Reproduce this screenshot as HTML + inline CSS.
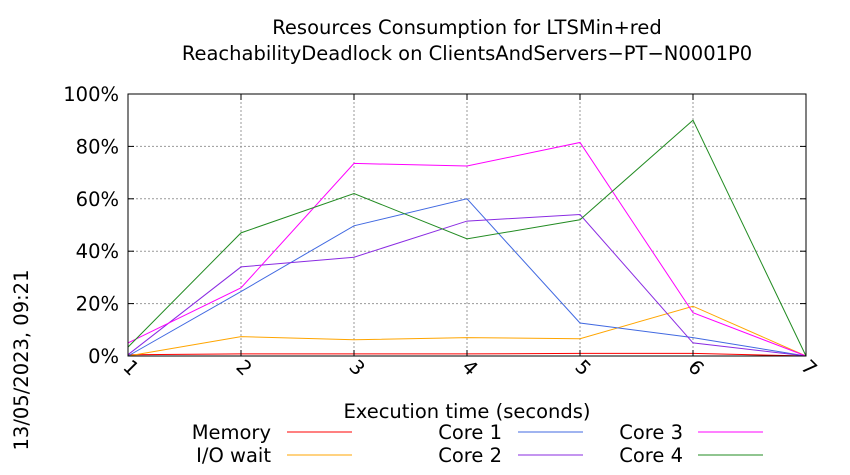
<!DOCTYPE html>
<html><head><meta charset="utf-8"><style>body{margin:0;background:#fff}svg{display:block;font-family:"DejaVu Sans","Liberation Sans",sans-serif}</style></head>
<body>
<svg width="850" height="475" viewBox="0 0 850 475">
<g id="grid"></g>
<g id="series"></g>
<rect x="128" y="94" width="678" height="262" fill="none" stroke="#000" stroke-width="1"/>
<g id="ticks"></g>
<text x="467" y="34" font-size="19.5" text-anchor="middle">Resources Consumption for LTSMin+red</text>
<text x="467" y="60" font-size="19.5" text-anchor="middle">ReachabilityDeadlock on ClientsAndServers−PT−N0001P0</text>
<text x="467" y="418" font-size="19.5" text-anchor="middle">Execution time (seconds)</text>
<text transform="translate(28,360) rotate(-90)" font-size="19.5" text-anchor="middle">13/05/2023, 09:21</text>
<g id="legend"></g>
</svg>
<script>
const xCategories=[1,2,3,4,5,6,7];
const yTicks=[0,20,40,60,80,100];
const memory=[0.5,0.8,0.8,0.8,1,1,0];
const ioWait=[0,7.4,6.2,7,6.6,19,0];
const core1=[0,24.6,49.7,60,12.6,7,0];
const core2=[0.5,34,37.7,51.5,54,5,0];
const core3=[5,26,73.5,72.5,81.5,16.5,0];
const core4=[3.4,47,62,44.7,52,90,0];
const seriesNames=["Memory","I/O wait","Core 1","Core 2","Core 3","Core 4"];
const seriesData=[memory,ioWait,core1,core2,core3,core4];
const seriesColors=["#ff0000","#ffa500","#4169e1","#8a2be2","#ff00ff","#228b22"];
const NS="http://www.w3.org/2000/svg";
const L=128,R=806,T=94,B=356;
const xs=v=>L+(v-1)*(R-L)/6;
const ys=v=>B-v*(B-T)/100;
function mk(tag,attrs,parent){const e=document.createElementNS(NS,tag);for(const k in attrs)e.setAttribute(k,attrs[k]);parent.appendChild(e);return e;}
const grid=document.getElementById('grid'),ticks=document.getElementById('ticks'),ser=document.getElementById('series'),leg=document.getElementById('legend');
yTicks.forEach(t=>{
  const y=ys(t);
  if(t>0&&t<100){const g=mk('line',{x1:L,x2:R,y1:y,y2:y,stroke:'#999','stroke-dasharray':'2,2','stroke-width':1},grid);
  
  }
  const tl=mk('text',{x:L-9,y:y+7,'font-size':19.5,'text-anchor':'end'},ticks);tl.textContent=t+'%';
  
  
  [[L,L+6],[R-6,R]].forEach(p=>{const m=mk('line',{x1:p[0],x2:p[1],y1:y,y2:y,stroke:'#000'},ticks);
  
  });
});
xCategories.forEach(c=>{
  const x=xs(c);
  if(c>1&&c<7){const g=mk('line',{x1:x,x2:x,y1:T,y2:B,stroke:'#999','stroke-dasharray':'2,2','stroke-width':1},grid);
  
  }
  [[B-6,B],[T,T+6]].forEach(p=>{const m=mk('line',{x1:x,x2:x,y1:p[0],y2:p[1],stroke:'#000'},ticks);
  
  });
  const tl=mk('text',{transform:`translate(${x-6},${B+12}) rotate(45)`,'font-size':19.5},ticks);tl.textContent=c;
  
  
});
seriesData.forEach((d,i)=>{
  const p=mk('polyline',{points:d.map((v,j)=>xs(xCategories[j])+','+ys(v)).join(' '),fill:'none',stroke:seriesColors[i],'stroke-width':1},ser);
  
  
});
const legPos=[[271,287,432],[271,287,455],[502,518,432],[502,518,455],[683,698,432],[683,698,455]];
seriesNames.forEach((n,i)=>{
  const [tx,lx,y]=legPos[i];
  const t=mk('text',{x:tx,y:y+7,'font-size':19.5,'text-anchor':'end'},leg);t.textContent=n;
  
  
  const l=mk('line',{x1:lx,x2:lx+65,y1:y,y2:y,stroke:seriesColors[i]},leg);
  
  
});
</script>
</body></html>
